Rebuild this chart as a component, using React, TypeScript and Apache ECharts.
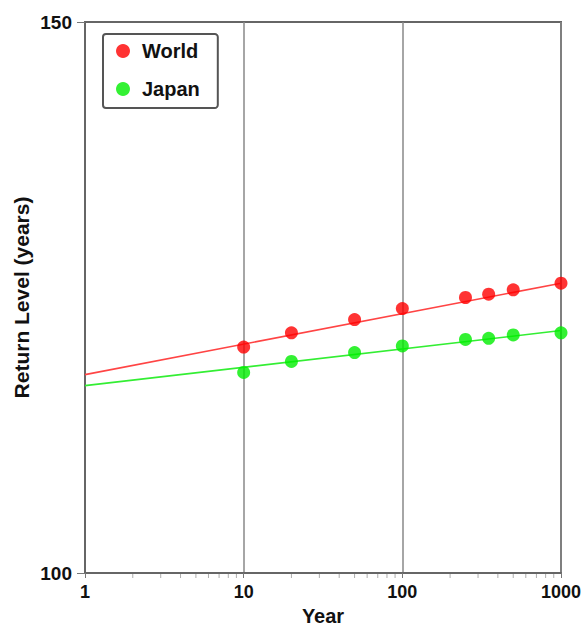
import React, { useEffect, useRef } from "react";
import * as echarts from "echarts";

const returnPeriods = [10, 20, 50, 100, 250, 350, 500, 1000];
const worldValues = [120.5, 121.8, 123.0, 124.0, 125.0, 125.3, 125.7, 126.3];
const japanValues = [118.2, 119.2, 120.0, 120.6, 121.2, 121.3, 121.6, 121.8];
const fitX = [1, 1000];
const worldFit = [118.0, 126.3];
const japanFit = [117.0, 122.0];
const minorTickValues = [2, 3, 4, 5, 6, 7, 8, 9, 20, 30, 40, 50, 60, 70, 80, 90, 200, 300, 400, 500, 600, 700, 800, 900];
const yTicks = [100, 150];

const FONT = "'Liberation Sans', Arial, Helvetica, sans-serif";

export default function App() {
  const ref = useRef<HTMLDivElement>(null);
  useEffect(() => {
    if (!ref.current) return;
    const chart = echarts.init(ref.current, null, { renderer: "svg" });
    chart.setOption({
      animation: false,
      backgroundColor: "#ffffff",
      textStyle: { fontFamily: FONT },
      grid: {
        left: 85,
        right: 20,
        top: 22,
        bottom: 53,
        show: true,
        borderColor: "#666",
        borderWidth: 2,
        containLabel: false,
        outerBoundsMode: "none",
      },
      legend: {
        orient: "vertical",
        left: 103,
        top: 34,
        padding: [7, 18, 9, 13],
        itemGap: 18,
        itemWidth: 14,
        itemHeight: 14,
        icon: "circle",
        borderColor: "#555",
        borderWidth: 2,
        borderRadius: 3,
        data: ["World", "Japan"],
        textStyle: {
          fontFamily: FONT,
          fontSize: 20,
          fontWeight: "bold",
          color: "#111",
          padding: [0, 0, 0, 7],
        },
      },
      xAxis: {
        type: "log",
        logBase: 10,
        min: 1,
        max: 1000,
        name: "Year",
        nameLocation: "middle",
        nameGap: 33,
        nameMoveOverlap: false,
        nameTextStyle: { fontFamily: FONT, fontSize: 20, fontWeight: "bold", color: "#111" },
        axisLine: { show: true, lineStyle: { color: "#666", width: 2 } },
        axisTick: { show: true, inside: false, length: 5, lineStyle: { color: "#777", width: 1 } },
        axisLabel: {
          fontFamily: FONT,
          fontSize: 18,
          fontWeight: "bold",
          color: "#111",
          margin: 10,
          showMinLabel: true,
          showMaxLabel: true,
          formatter: (v: number) => String(v),
        },
        splitLine: { show: true, lineStyle: { color: "#888", width: 1.5 } },
      },
      yAxis: {
        type: "value",
        min: 100,
        max: 150,
        interval: 50,
        name: "Return Level (years)",
        nameLocation: "middle",
        nameGap: 53,
        nameMoveOverlap: false,
        nameTextStyle: { fontFamily: FONT, fontSize: 21, fontWeight: "bold", color: "#111" },
        axisLine: { show: true, lineStyle: { color: "#666", width: 2 } },
        axisTick: { show: true, inside: false, length: 8, lineStyle: { color: "#777", width: 1 } },
        axisLabel: {
          fontFamily: FONT,
          fontSize: 19,
          fontWeight: "bold",
          color: "#111",
          margin: 13,
          formatter: (v: number) => (yTicks.includes(v) ? String(v) : ""),
        },
        splitLine: { show: false },
      },
      series: [
        {
          type: "line",
          name: "worldFit",
          data: fitX.map((x, i) => [x, worldFit[i]]),
          showSymbol: false,
          symbol: "none",
          lineStyle: { color: "#ff4444", width: 1.6 },
          silent: true,
          z: 2,
        },
        {
          type: "line",
          name: "japanFit",
          data: fitX.map((x, i) => [x, japanFit[i]]),
          showSymbol: false,
          symbol: "none",
          lineStyle: { color: "#33ee33", width: 1.6 },
          silent: true,
          z: 2,
        },
        {
          type: "scatter",
          name: "World",
          data: returnPeriods.map((x, i) => [x, worldValues[i]]),
          symbol: "circle",
          symbolSize: 13,
          itemStyle: { color: "#ff0000" },
          z: 3,
        },
        {
          type: "scatter",
          name: "Japan",
          data: returnPeriods.map((x, i) => [x, japanValues[i]]),
          symbol: "circle",
          symbolSize: 13,
          itemStyle: { color: "#00ee00" },
          z: 3,
        },
        {
          type: "scatter",
          name: "minorTicks",
          data: minorTickValues.map((x) => [x, 100]),
          symbol: "rect",
          symbolSize: [1, 4],
          symbolOffset: [0, 3],
          itemStyle: { color: "#999" },
          clip: false,
          silent: true,
          z: 1,
        },
      ],
    });
    return () => chart.dispose();
  }, []);
  return <div ref={ref} style={{ width: 581, height: 626, position: "absolute", left: 0, top: 0 }} />;
}
